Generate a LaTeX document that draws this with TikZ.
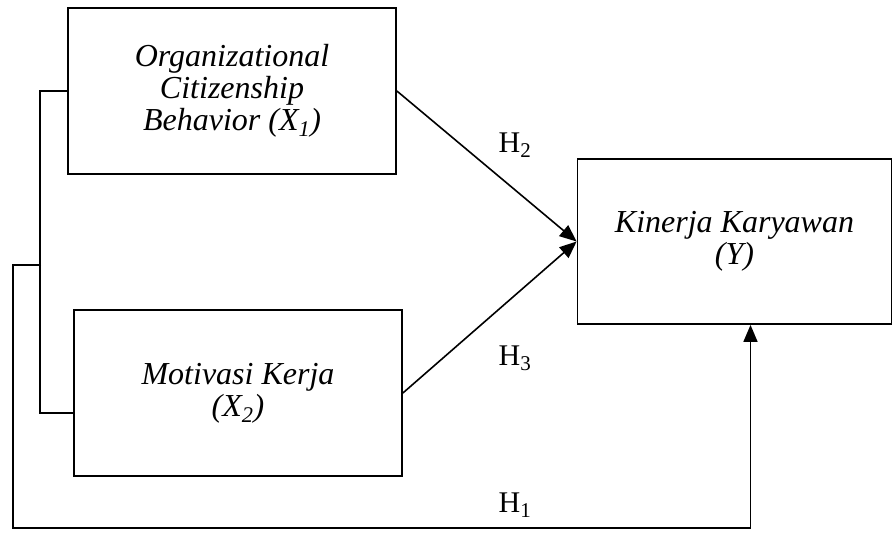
\documentclass[tikz,border=0pt]{standalone}
\usepackage{fontspec}
\setmainfont{Liberation Serif}
\usetikzlibrary{arrows.meta,positioning}

\begin{document}
\begin{tikzpicture}[
  x=1pt, y=-1pt,
  var/.style={rectangle, draw, line width=1.8pt, align=center,
              font=\fontsize{32}{32}\selectfont\itshape,
              minimum width=328pt, minimum height=166pt, inner sep=0pt},
  hyp/.style={font=\fontsize{30}{30}\selectfont},
  link/.style={draw, line width=1.6pt},
  arr/.style={draw, line width=1.6pt, -{Triangle[length=17pt,width=14pt]}}
]
\useasboundingbox (0,0) rectangle (894,539);
% variables
\node[var] (ocb) at (232,91) {Organizational\\Citizenship\\Behavior (X\textsubscript{1})\\[-24pt]};
\node[var] (mot) at (238,393) {Motivasi Kerja\\(X\textsubscript{2})};
\node[var, minimum width=314pt, minimum height=165pt] (kin) at (734.5,241.5)
  {Kinerja Karyawan\\(Y)};
% hypotheses
\node[hyp] (h2) at (515,145) {H\textsubscript{2}};
\node[hyp] (h3) at (515,358) {H\textsubscript{3}};
\node[hyp] (h1) at (515,505) {H\textsubscript{1}};
% paths
\draw[arr] (ocb.east) -- (kin.west);
\draw[arr] (mot.east) -- (kin.west);
\coordinate (jn) at (41,265);
\coordinate (kin in) at ([xshift=16pt]kin.south);
\draw[link] (ocb.west) -- ++(-27,0) |- ([yshift=-20pt]mot.west);
\draw[arr] (jn) -| (13,528) -| (kin in);
\end{tikzpicture}
\end{document}
